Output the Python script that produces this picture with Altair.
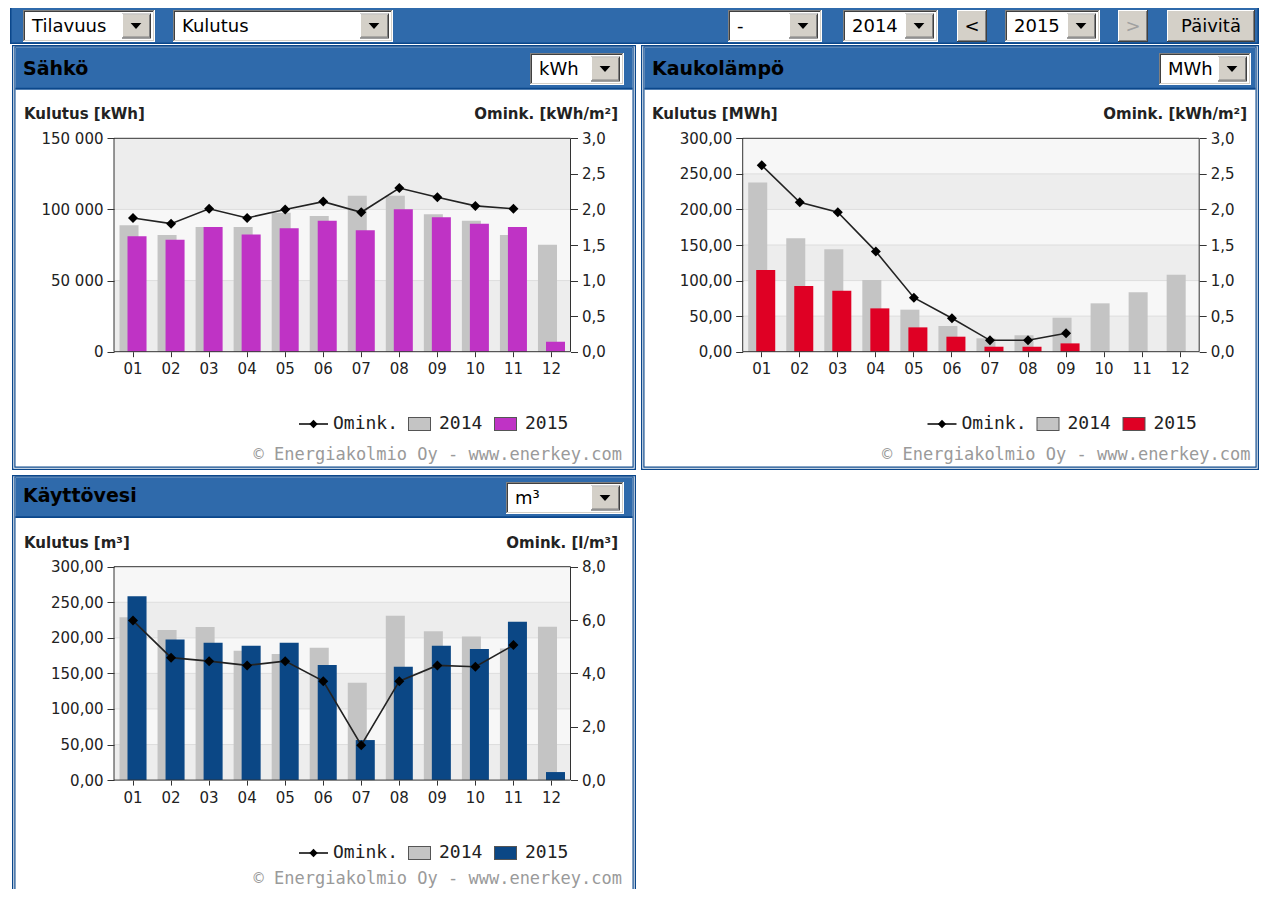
import altair as alt
import pandas as pd

# ---------------- data ----------------
MONTHS = ["01", "02", "03", "04", "05", "06", "07", "08", "09", "10", "11", "12"]

SAHKO_2014 = [88800, 82000, 87700, 87700, 97700, 95400, 109700, 109700, 96600, 92100, 82000, 75200]
SAHKO_2015 = [81100, 78700, 87700, 82300, 86700, 92100, 85300, 100100, 94500, 90000, 87700, 7000]
SAHKO_OMINK = [1.88, 1.80, 2.01, 1.88, 2.00, 2.11, 1.96, 2.30, 2.17, 2.05, 2.01]

KAUKO_2014 = [237.7, 159.4, 143.9, 100.8, 59.1, 36.1, 18.8, 23.0, 47.8, 68.0, 83.4, 108.3]
KAUKO_2015 = [114.8, 92.3, 85.8, 60.9, 34.2, 21.1, 7.0, 7.0, 11.7]
KAUKO_OMINK = [2.62, 2.10, 1.96, 1.41, 0.76, 0.47, 0.16, 0.16, 0.26]

VESI_2014 = [228.8, 210.9, 215.2, 181.9, 177.2, 186.1, 136.9, 231.1, 209.1, 202.0, 185.0, 215.6]
VESI_2015 = [258.3, 197.8, 193.1, 188.9, 193.1, 161.7, 56.3, 159.4, 188.9, 184.2, 222.7, 11.3]
VESI_OMINK = [5.98, 4.59, 4.46, 4.30, 4.46, 3.71, 1.31, 3.71, 4.30, 4.25, 5.06]

# ---------------- layout helpers ----------------
OX = OY = 8
W, H = 1251, 881
PW, PH = 456.5, 213.4
RIGHT = 1259  # rightmost page pixel that can be drawn

FONT = "DejaVu Sans"
MONO = "DejaVu Sans Mono"
DARK = "#0b478b"
BLUE = "#2f6aab"
GREY_BAR = "#c4c4c4"
MAGENTA = "#bf33c5"
RED = "#df0024"
NAVY = "#0b4785"


def cx(x):
    return x - OX


def cy(y):
    return y - OY


rects = []
fg_rects = []
tris = []
texts = {}
leg_rules = []
leg_diamonds = []


def R(x0, y0, x1, y1, fill, lst=None):
    (rects if lst is None else lst).append(
        {"x": cx(x0), "x2": cx(x1), "y": cy(y0), "y2": cy(y1), "fill": fill})


def T(x, y, s, size=18, weight="normal", align="left", font=FONT, color="#000000"):
    texts.setdefault((font, size, weight, align), []).append(
        {"x": cx(x), "y": cy(y), "t": s, "c": color})


def dropdown(x0, y0, x1, y1, label):
    R(x0, y0, x1, y1, "#ffffff")
    R(x0, y0, x1 - 1, y1 - 1, "#808080")
    R(x0 + 1, y0 + 1, x1 - 1, y1 - 1, "#d4d0c8")
    R(x0 + 1, y0 + 1, x1 - 2, y1 - 2, "#404040")
    R(x0 + 2, y0 + 2, x1 - 2, y1 - 2, "#ffffff")
    ax0, ay0, ax1, ay1 = x1 - 33, y0 + 3.5, x1 - 4, y1 - 3.5
    R(ax0, ay0, ax1, ay1, "#404040")
    R(ax0, ay0, ax1 - 1, ay1 - 1, "#ffffff")
    R(ax0 + 1, ay0 + 1, ax1 - 1, ay1 - 1, "#808080")
    R(ax0 + 1, ay0 + 1, ax1 - 2, ay1 - 2, "#d4d0c8")
    tris.append({"x": cx((ax0 + ax1) / 2 - 0.5), "y": cy((ay0 + ay1) / 2)})
    T(x0 + 9, (y0 + y1) / 2 + 1, label, 18)


def button(x0, y0, x1, y1, label, color="#000000"):
    R(x0, y0, x1, y1, "#404040")
    R(x0, y0, x1 - 1, y1 - 1, "#ffffff")
    R(x0 + 1, y0 + 1, x1 - 1, y1 - 1, "#808080")
    R(x0 + 1, y0 + 1, x1 - 2, y1 - 2, "#d4d0c8")
    T((x0 + x1) / 2, (y0 + y1) / 2 + 1, label, 18, align="center", color=color)


def panel_frame(x0, y0, x1, y1, hb):
    R(x0, y0, x1, y1, DARK)
    R(x0 + 1.3, y0 + 1.3, x1 - 1.3, y1 - 1.3, "#ffffff")
    R(x0 + 2.3, y0 + 1.3, x1 - 2.3, y1 - 2.3, DARK)
    R(x0 + 3.5, y0 + 2.5, x1 - 3.5, y1 - 3.5, "#ffffff")
    R(x0 + 3.5, y0 + 2.5, x1 - 3.5, hb, BLUE)
    R(x0 + 3.5, hb - 1.8, x1 - 3.5, hb, DARK)


# top strip
R(10, 4, RIGHT, 44, DARK)
R(11.5, 5.5, RIGHT - 1.5, 42.5, BLUE)
dropdown(23, 10, 155, 42, "Tilavuus")
dropdown(173, 10, 393, 42, "Kulutus")
dropdown(728, 10, 822, 42, "-")
dropdown(843, 10, 938, 42, "2014")
button(957, 10, 987, 42, "<")
dropdown(1005, 10, 1100, 42, "2015")
button(1118, 10, 1148, 42, ">", color="#a0a0a0")
button(1167, 10, 1255, 42, "Päivitä")

# panels
panel_frame(12, 45, 636, 470, 89.5)
panel_frame(641, 45, RIGHT, 470, 89.5)
panel_frame(12, 475, 636, 910, 518)

dropdown(530, 53, 624, 85, "kWh")
dropdown(1159, 53, 1251, 85, "MWh")
dropdown(506, 482, 624, 514, "m³")

T(23, 69, "Sähkö", 19, "bold")
T(652, 69, "Kaukolämpö", 19, "bold")
T(23, 496, "Käyttövesi", 19, "bold")

T(24, 114, "Kulutus [kWh]", 15, "bold", color="#222222")
T(618, 114, "Omink. [kWh/m²]", 15, "bold", "right", color="#222222")
T(652, 114, "Kulutus [MWh]", 15, "bold", color="#222222")
T(1247, 114, "Omink. [kWh/m²]", 15, "bold", "right", color="#222222")
T(24, 543, "Kulutus [m³]", 15, "bold", color="#222222")
T(618, 543, "Omink. [l/m³]", 15, "bold", "right", color="#222222")

# legends + copyright
for dx, dy, cdy, col in [(0, 0, 0, MAGENTA), (628.5, 0, 0, RED), (0, 429, 424, NAVY)]:
    yc = 424 + dy
    leg_rules.append({"x": cx(299 + dx), "x2": cx(328 + dx), "y": cy(yc)})
    leg_diamonds.append({"x": cx(313.5 + dx), "y": cy(yc)})
    T(333 + dx, yc, "Omink.", 18, font=MONO, color="#222222")
    R(408 + dx, yc - 7, 431 + dx, yc + 7, "#555555", fg_rects)
    R(409 + dx, yc - 6, 430 + dx, yc + 6, GREY_BAR, fg_rects)
    T(439 + dx, yc, "2014", 18, font=MONO, color="#222222")
    R(494 + dx, yc - 7, 517 + dx, yc + 7, "#555555", fg_rects)
    R(495 + dx, yc - 6, 516 + dx, yc + 6, col, fg_rects)
    T(525 + dx, yc, "2015", 18, font=MONO, color="#222222")
    T(622 + dx, 455 + cdy, "© Energiakolmio Oy - www.enerkey.com", 17, align="right",
      font=MONO, color="#9a9a9a")


def rect_layer(rows):
    return alt.Chart(pd.DataFrame(rows)).mark_rect().encode(
        x=alt.X("x:Q", scale=None, axis=None), x2="x2:Q",
        y=alt.Y("y:Q", scale=None, axis=None), y2="y2:Q",
        fill=alt.Fill("fill:N", scale=None, legend=None))


FMT_THOUSANDS = "replace(format(datum.value, ','), ',', ' ')"
FMT_2 = "replace(format(datum.value, '.2f'), '.', ',')"
FMT_1 = "replace(format(datum.value, '.1f'), '.', ',')"


def panel_layers(X0p, Y0p, v14, v15, om, ymax, ystep, lexpr, rmax, rstep, color):
    X0, Y0 = cx(X0p), cy(Y0p)
    X1, Y1 = X0 + PW, Y0 + PH
    ys = alt.Scale(domain=[0, ymax], range=[Y1, Y0], nice=False, zero=True)
    rs = alt.Scale(domain=[0, rmax], range=[Y1, Y0], nice=False, zero=True)

    def xs(shift):
        return alt.Scale(type="band", domain=MONTHS, range=[X0 + shift, X1 + shift],
                         paddingInner=0.5, paddingOuter=0.25)

    nb = int(round(ymax / ystep))
    nr = int(round(rmax / rstep))
    bands = pd.DataFrame({
        "lo": [i * ystep for i in range(nb)],
        "hi": [(i + 1) * ystep for i in range(nb)],
        "c": ["#ededed" if i % 2 == 0 else "#f7f7f7" for i in range(nb)],
    })
    L = []
    L.append(alt.Chart(bands).mark_rect().encode(
        x=alt.value(X0), x2=alt.value(X1),
        y=alt.Y("lo:Q", scale=ys, axis=None), y2="hi:Q",
        fill=alt.Fill("c:N", scale=None, legend=None)))
    blines = pd.DataFrame({"b": [i * ystep for i in range(1, nb)]})
    L.append(alt.Chart(blines).mark_rule(color="#dddddd", strokeWidth=1).encode(
        x=alt.value(X0), x2=alt.value(X1), y=alt.Y("b:Q", scale=ys, axis=None)))

    left_axis = alt.Axis(orient="left", offset=-X0, values=[i * ystep for i in range(nb + 1)],
                         labelExpr=lexpr, title=None, tickSize=7, labelPadding=4, zindex=1)
    right_axis = alt.Axis(orient="right", offset=X1 - W, values=[i * rstep for i in range(nr + 1)],
                          labelExpr=FMT_1, title=None, tickSize=7, labelPadding=4, zindex=1)
    bottom_axis = alt.Axis(orient="bottom", offset=Y1 - H, title=None, labelAngle=0,
                           tickSize=5, labelPadding=5, zindex=1)

    d14 = pd.DataFrame({"m": MONTHS[:len(v14)], "v": v14})
    d15 = pd.DataFrame({"m": MONTHS[:len(v15)], "v": v15})
    dom = pd.DataFrame({"m": MONTHS[:len(om)], "o": om})

    L.append(alt.Chart(d14).mark_bar(color=GREY_BAR).encode(
        x=alt.X("m:N", scale=xs(-4), axis=None),
        y=alt.Y("v:Q", scale=ys, axis=left_axis)))
    L.append(alt.Chart(d15).mark_bar(color=color).encode(
        x=alt.X("m:N", scale=xs(4), axis=None),
        y=alt.Y("v:Q", scale=ys, axis=None)))
    L.append(alt.Chart(dom).mark_line(color="#222222", strokeWidth=1.6).encode(
        x=alt.X("m:N", scale=xs(0), axis=bottom_axis),
        y=alt.Y("o:Q", scale=rs, axis=right_axis)))
    L.append(alt.Chart(dom).mark_point(shape="diamond", filled=True, color="#000000",
                                       size=100, opacity=1).encode(
        x=alt.X("m:N", scale=xs(0), axis=None),
        y=alt.Y("o:Q", scale=rs, axis=None)))
    L.append(alt.Chart(pd.DataFrame({"a": [0]})).mark_rect(
        fillOpacity=0, stroke="#333333", strokeWidth=1).encode(
        x=alt.value(X0), x2=alt.value(X1), y=alt.value(Y0), y2=alt.value(Y1)))
    return L


layers = [rect_layer(rects)]
layers += panel_layers(114, 138.3, SAHKO_2014, SAHKO_2015, SAHKO_OMINK,
                       150000, 50000, FMT_THOUSANDS, 3.0, 0.5, MAGENTA)
layers += panel_layers(742.7, 138.3, KAUKO_2014, KAUKO_2015, KAUKO_OMINK,
                       300, 50, FMT_2, 3.0, 0.5, RED)
layers += panel_layers(114, 566.7, VESI_2014, VESI_2015, VESI_OMINK,
                       300, 50, FMT_2, 8.0, 2.0, NAVY)

layers.append(rect_layer(fg_rects))
layers.append(alt.Chart(pd.DataFrame(tris)).mark_point(
    shape="M-1,-0.55L1,-0.55L0,0.55Z", filled=True, color="#000000", size=115, opacity=1).encode(
    x=alt.X("x:Q", scale=None, axis=None), y=alt.Y("y:Q", scale=None, axis=None)))
layers.append(alt.Chart(pd.DataFrame(leg_rules)).mark_rule(color="#000000", strokeWidth=1.5).encode(
    x=alt.X("x:Q", scale=None, axis=None), x2="x2:Q", y=alt.Y("y:Q", scale=None, axis=None)))
layers.append(alt.Chart(pd.DataFrame(leg_diamonds)).mark_point(
    shape="diamond", filled=True, color="#000000", size=70, opacity=1).encode(
    x=alt.X("x:Q", scale=None, axis=None), y=alt.Y("y:Q", scale=None, axis=None)))

for (font, size, weight, align), rows in texts.items():
    layers.append(alt.Chart(pd.DataFrame(rows)).mark_text(
        font=font, fontSize=size, fontWeight=weight, align=align, baseline="middle").encode(
        x=alt.X("x:Q", scale=None, axis=None), y=alt.Y("y:Q", scale=None, axis=None),
        text="t:N", color=alt.Color("c:N", scale=None, legend=None)))

chart = alt.layer(*layers).resolve_scale(
    x="independent", y="independent"
).properties(
    width=W, height=H, padding=0, autosize=alt.AutoSizeParams(type="none"),
    background="white",
).configure_view(
    stroke=None
).configure_axis(
    labelFont=FONT, labelFontSize=15, labelColor="#222222", tickColor="#333333",
    grid=False, domain=False, labelFlush=False
)

chart.save("out.html", embed_options={"renderer": "svg", "actions": False})
